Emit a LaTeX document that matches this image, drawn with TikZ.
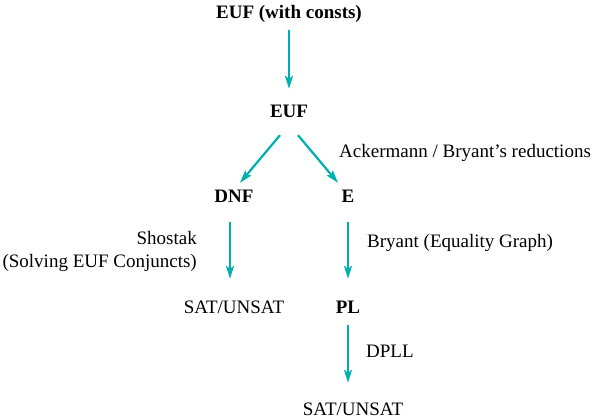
\documentclass[tikz,border=0pt]{standalone}
\usepackage{fontspec}
\setmainfont{Liberation Serif}
\usetikzlibrary{arrows.meta}
\definecolor{figcyan}{RGB}{0,176,176}

\begin{document}
\begin{tikzpicture}[x=1pt,y=-1pt,
	every node/.style={font=\fontsize{19}{23}\selectfont,inner sep=0pt},
	logic/.style={font=\fontsize{19}{23}\selectfont\bfseries,text height=13pt,text depth=4pt,anchor=base},
	result/.style={text height=13pt,text depth=4pt,anchor=base},
	note/.style={anchor=base west},
	flow/.style={figcyan,line width=2.2pt,-{Stealth[length=13pt,width=8pt,inset=3pt]},shorten <=15pt,shorten >=21pt}]
	\useasboundingbox (0,0) rectangle (596,419);
	% theories
	\node[logic] (eufc) at (289,18.5) {EUF (with consts)};
	\node[logic] (euf) at (289,118) {EUF};
	\node[logic] (dnf) at (234,203) {DNF};
	\node[logic] (e) at (348,203) {E};
	\node[result] (sat1) at (234,313) {SAT/UNSAT};
	\node[logic] (pl) at (348,313) {PL};
	\node[result] (sat2) at (353,415) {SAT/UNSAT};
	% procedures
	\node[note] (ack) at (339,158) {Ackermann / Bryant's reductions};
	\node[align=right,anchor=east] (shostak) at (197,251) {Shostak\\(Solving EUF Conjuncts)};
	\node[note] (bryant) at (367,248) {Bryant (Equality Graph)};
	\node[note] (dpll) at (366,357) {DPLL};
	% arrows
	\draw[flow,shorten <=7.5pt,shorten >=16pt] (eufc) -- (euf);
	\draw[flow,shorten <=0pt,shorten >=0pt] ([xshift=-9pt,yshift=-13pt]euf.south) -- ([xshift=6pt,yshift=7pt]dnf.north);
	\draw[flow,shorten <=0pt,shorten >=0pt] ([xshift=9pt,yshift=-13pt]euf.south) -- ([xshift=-10pt,yshift=7pt]e.north);
	\draw[flow] ([xshift=-4pt]dnf.south) -- ([xshift=-4pt]sat1.north);
	\draw[flow] (e) -- (pl);
	\draw[flow,shorten <=8pt,shorten >=19pt] (pl.south) -- (pl.south |- sat2.north);
\end{tikzpicture}
\end{document}
